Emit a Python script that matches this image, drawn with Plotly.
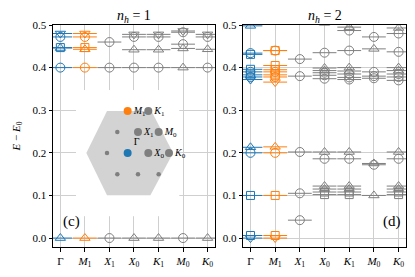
import plotly.graph_objects as go

# ---------------- data ----------------
K_NAMES = ["Γ", "M1", "X1", "X0", "K1", "M0", "K0"]
K_TICKS = ["Γ", "<i>M</i><sub>1</sub>", "<i>X</i><sub>1</sub>", "<i>X</i><sub>0</sub>",
           "<i>K</i><sub>1</sub>", "<i>M</i><sub>0</sub>", "<i>K</i><sub>0</sub>"]
Y_TICKS = [0.0, 0.1, 0.2, 0.3, 0.4, 0.5]

# n_h = 1
nh1_circle_k = ["Γ", "Γ", "M1", "M1", "X1", "X1", "X1", "X0", "X0", "K1", "K1",
                "M0", "M0", "M0", "K0", "K0"]
nh1_circle_E = [0.472, 0.400, 0.472, 0.400, 0.460, 0.400, 0.000, 0.472, 0.400, 0.472, 0.400,
                0.483, 0.455, 0.000, 0.472, 0.400]
nh1_triup_k = ["Γ", "Γ", "M1", "M1", "X0", "X0", "K1", "K1", "M0", "M0", "K0", "K0"]
nh1_triup_E = [0.446, 0.000, 0.443, 0.000, 0.442, 0.000, 0.442, 0.000, 0.445, 0.400, 0.443, 0.000]
nh1_tridn_k = ["Γ", "M1", "X0", "K1", "M0", "K0"]
nh1_tridn_E = [0.480, 0.480, 0.478, 0.478, 0.486, 0.478]
nh1_square_k = ["Γ", "M1"]
nh1_square_E = [0.447, 0.447]

# n_h = 2
nh2_circle_k = ["Γ", "Γ", "Γ", "Γ", "M1", "M1", "M1", "M1",
                "X1", "X1", "X1", "X1", "X1",
                "X0", "X0", "X0", "X0", "X0",
                "K1", "K1", "K1", "K1", "K1", "K1",
                "M0", "M0", "M0", "M0", "M0",
                "K0", "K0", "K0", "K0", "K0", "K0"]
nh2_circle_E = [0.434, 0.390, 0.378, 0.200, 0.440, 0.390, 0.378, 0.200,
                0.420, 0.380, 0.202, 0.105, 0.042,
                0.435, 0.388, 0.382, 0.374, 0.186,
                0.487, 0.440, 0.385, 0.377, 0.372, 0.186,
                0.472, 0.390, 0.380, 0.375, 0.172,
                0.480, 0.437, 0.385, 0.378, 0.370, 0.186]
nh2_square_k = ["Γ", "Γ", "Γ", "Γ", "Γ", "M1", "M1", "M1", "M1", "M1", "M1",
                "X0", "X0", "K1", "K1", "K0", "K0"]
nh2_square_E = [0.431, 0.396, 0.383, 0.100, 0.006, 0.440, 0.405, 0.395, 0.383, 0.100, 0.006,
                0.108, 0.102, 0.108, 0.102, 0.108, 0.102]
nh2_triup_k = ["Γ", "Γ", "M1", "M1", "X0", "X0", "X0", "X0", "X0", "X0",
               "K1", "K1", "K1", "K1", "K1", "K1", "M0", "M0", "M0",
               "K0", "K0", "K0", "K0", "K0", "K0"]
nh2_triup_E = [0.498, 0.213, 0.507, 0.214, 0.505, 0.399, 0.393, 0.202, 0.122, 0.115,
               0.495, 0.400, 0.392, 0.202, 0.122, 0.115, 0.444, 0.175, 0.100,
               0.493, 0.400, 0.393, 0.202, 0.122, 0.115]
nh2_tridn_k = ["Γ", "Γ", "M1", "M1"]
nh2_tridn_E = [0.372, 0.000, 0.366, 0.000]

# inset: k-points on the triangular lattice (half-spacing units, row units)
inset_big_names = ["Γ", "M1", "X1", "X0", "K1", "M0", "K0"]
inset_big_labels = ["Γ", "<i>M</i><sub>1</sub>", "<i>X</i><sub>1</sub>", "<i>X</i><sub>0</sub>",
                    "<i>K</i><sub>1</sub>", "<i>M</i><sub>0</sub>", "<i>K</i><sub>0</sub>"]
inset_big_u = [0, 0, 1, 2, 2, 3, 4]
inset_big_v = [0, 2, 1, 0, 2, 1, 0]
inset_small_u = [-2, -1, -1, 1, 3]
inset_small_v = [0, 1, -1, -1, -1]
hex_u = [-4, -2, 2.3, 4.4, 2.2, -2, -4]
hex_v = [0, 2, 2, 0, -2, -2, 0]

# ---------------- style ----------------
BLUE, ORANGE, GRAY = "#1f77b4", "#ff7f0e", "#7f7f7f"
COLOR = {"Γ": BLUE, "M1": ORANGE}
FONT = "Liberation Serif, DejaVu Serif, serif"


def col(k):
    return COLOR.get(k, GRAY)


fig = go.Figure()


def add_levels(ks, Es, symbol, size, xa, ya):
    xs = [K_NAMES.index(k) for k in ks]
    cs = [col(k) for k in ks]
    fig.add_trace(go.Scatter(
        x=xs, y=Es, mode="markers", xaxis=xa, yaxis=ya, showlegend=False,
        marker=dict(symbol="line-ew", size=17, color=cs,
                    line=dict(color=cs, width=1)),
        hoverinfo="skip"))
    fig.add_trace(go.Scatter(
        x=xs, y=Es, mode="markers", xaxis=xa, yaxis=ya, showlegend=False,
        marker=dict(symbol=symbol, size=size, color=cs,
                    line=dict(color=cs, width=1))))


for ks, Es, sym, sz in [(nh1_circle_k, nh1_circle_E, "circle-open", 9),
                        (nh1_triup_k, nh1_triup_E, "triangle-up-open", 9),
                        (nh1_tridn_k, nh1_tridn_E, "triangle-down-open", 9),
                        (nh1_square_k, nh1_square_E, "square-open", 8)]:
    add_levels(ks, Es, sym, sz, "x", "y")

for ks, Es, sym, sz in [(nh2_circle_k, nh2_circle_E, "circle-open", 9),
                        (nh2_square_k, nh2_square_E, "square-open", 8),
                        (nh2_triup_k, nh2_triup_E, "triangle-up-open", 9),
                        (nh2_tridn_k, nh2_tridn_E, "triangle-down-open", 9)]:
    add_levels(ks, Es, sym, sz, "x2", "y2")

# inset
fig.add_trace(go.Scatter(x=hex_u, y=hex_v, mode="lines", fill="toself",
                         fillcolor="rgba(150,150,150,0.42)", line=dict(width=0),
                         xaxis="x3", yaxis="y3", showlegend=False, hoverinfo="skip"))
fig.add_trace(go.Scatter(x=inset_small_u, y=inset_small_v, mode="markers",
                         marker=dict(size=4.5, color=GRAY),
                         xaxis="x3", yaxis="y3", showlegend=False))
fig.add_trace(go.Scatter(x=inset_big_u, y=inset_big_v, mode="markers+text",
                         marker=dict(size=8, color=[col(k) for k in inset_big_names]),
                         text=inset_big_labels,
                         textposition=["top right"] + ["middle right"] * 6,
                         textfont=dict(family=FONT, size=10, color="black"),
                         xaxis="x3", yaxis="y3", showlegend=False, cliponaxis=False))

axis_common = dict(
    showgrid=True, gridcolor="#cfcfcf", gridwidth=1, zeroline=False,
    showline=True, linecolor="black", linewidth=1, mirror=True,
    ticks="outside", ticklen=3.5, tickcolor="black",
    tickfont=dict(family=FONT, size=11, color="black"))

xr = [-0.3, 6.3]
yr = [-0.021, 0.5]
# page body has an 8px default margin; figure is sized/offset to compensate
fig.update_layout(
    width=407, height=269,
    margin=dict(l=35, r=8, t=17, b=25),
    paper_bgcolor="white", plot_bgcolor="white",
    xaxis=dict(domain=[0, 0.4588], range=xr, tickvals=list(range(7)), ticktext=K_TICKS,
               anchor="y", **axis_common),
    yaxis=dict(domain=[0, 1], range=yr, tickvals=Y_TICKS, tickformat=".1f", anchor="x",
               title=dict(text="<i>E</i> − <i>E</i><sub>0</sub>",
                          font=dict(family=FONT, size=11, color="black"), standoff=9),
               **axis_common),
    xaxis2=dict(domain=[0.5385, 1], range=xr, tickvals=list(range(7)), ticktext=K_TICKS,
                anchor="y2", **axis_common),
    yaxis2=dict(domain=[0, 1], range=yr, tickvals=Y_TICKS, tickformat=".1f", anchor="x2",
                **axis_common),
    xaxis3=dict(domain=[0.0652, 0.3578], range=[-5, 5], visible=False, anchor="y3"),
    yaxis3=dict(domain=[0.1388, 0.7070], range=[-3, 3], visible=False, anchor="x3"),
    font=dict(family=FONT, size=11, color="black"),
    annotations=[
        dict(text="<i>n</i><sub><i>h</i></sub> = 1", x=0.2294, y=1.04, xref="paper", yref="paper",
             showarrow=False, font=dict(family=FONT, size=14), xanchor="center", yanchor="middle"),
        dict(text="<i>n</i><sub><i>h</i></sub> = 2", x=0.7692, y=1.04, xref="paper", yref="paper",
             showarrow=False, font=dict(family=FONT, size=14), xanchor="center", yanchor="middle"),
        dict(text="(c)", x=0.114, y=0.115, xref="x domain", yref="y domain",
             showarrow=False, font=dict(family=FONT, size=15), xanchor="center", yanchor="middle"),
        dict(text="(d)", x=0.911, y=0.115, xref="x2 domain", yref="y2 domain",
             showarrow=False, font=dict(family=FONT, size=15), xanchor="center", yanchor="middle"),
    ],
)

fig.write_html("out.html")
